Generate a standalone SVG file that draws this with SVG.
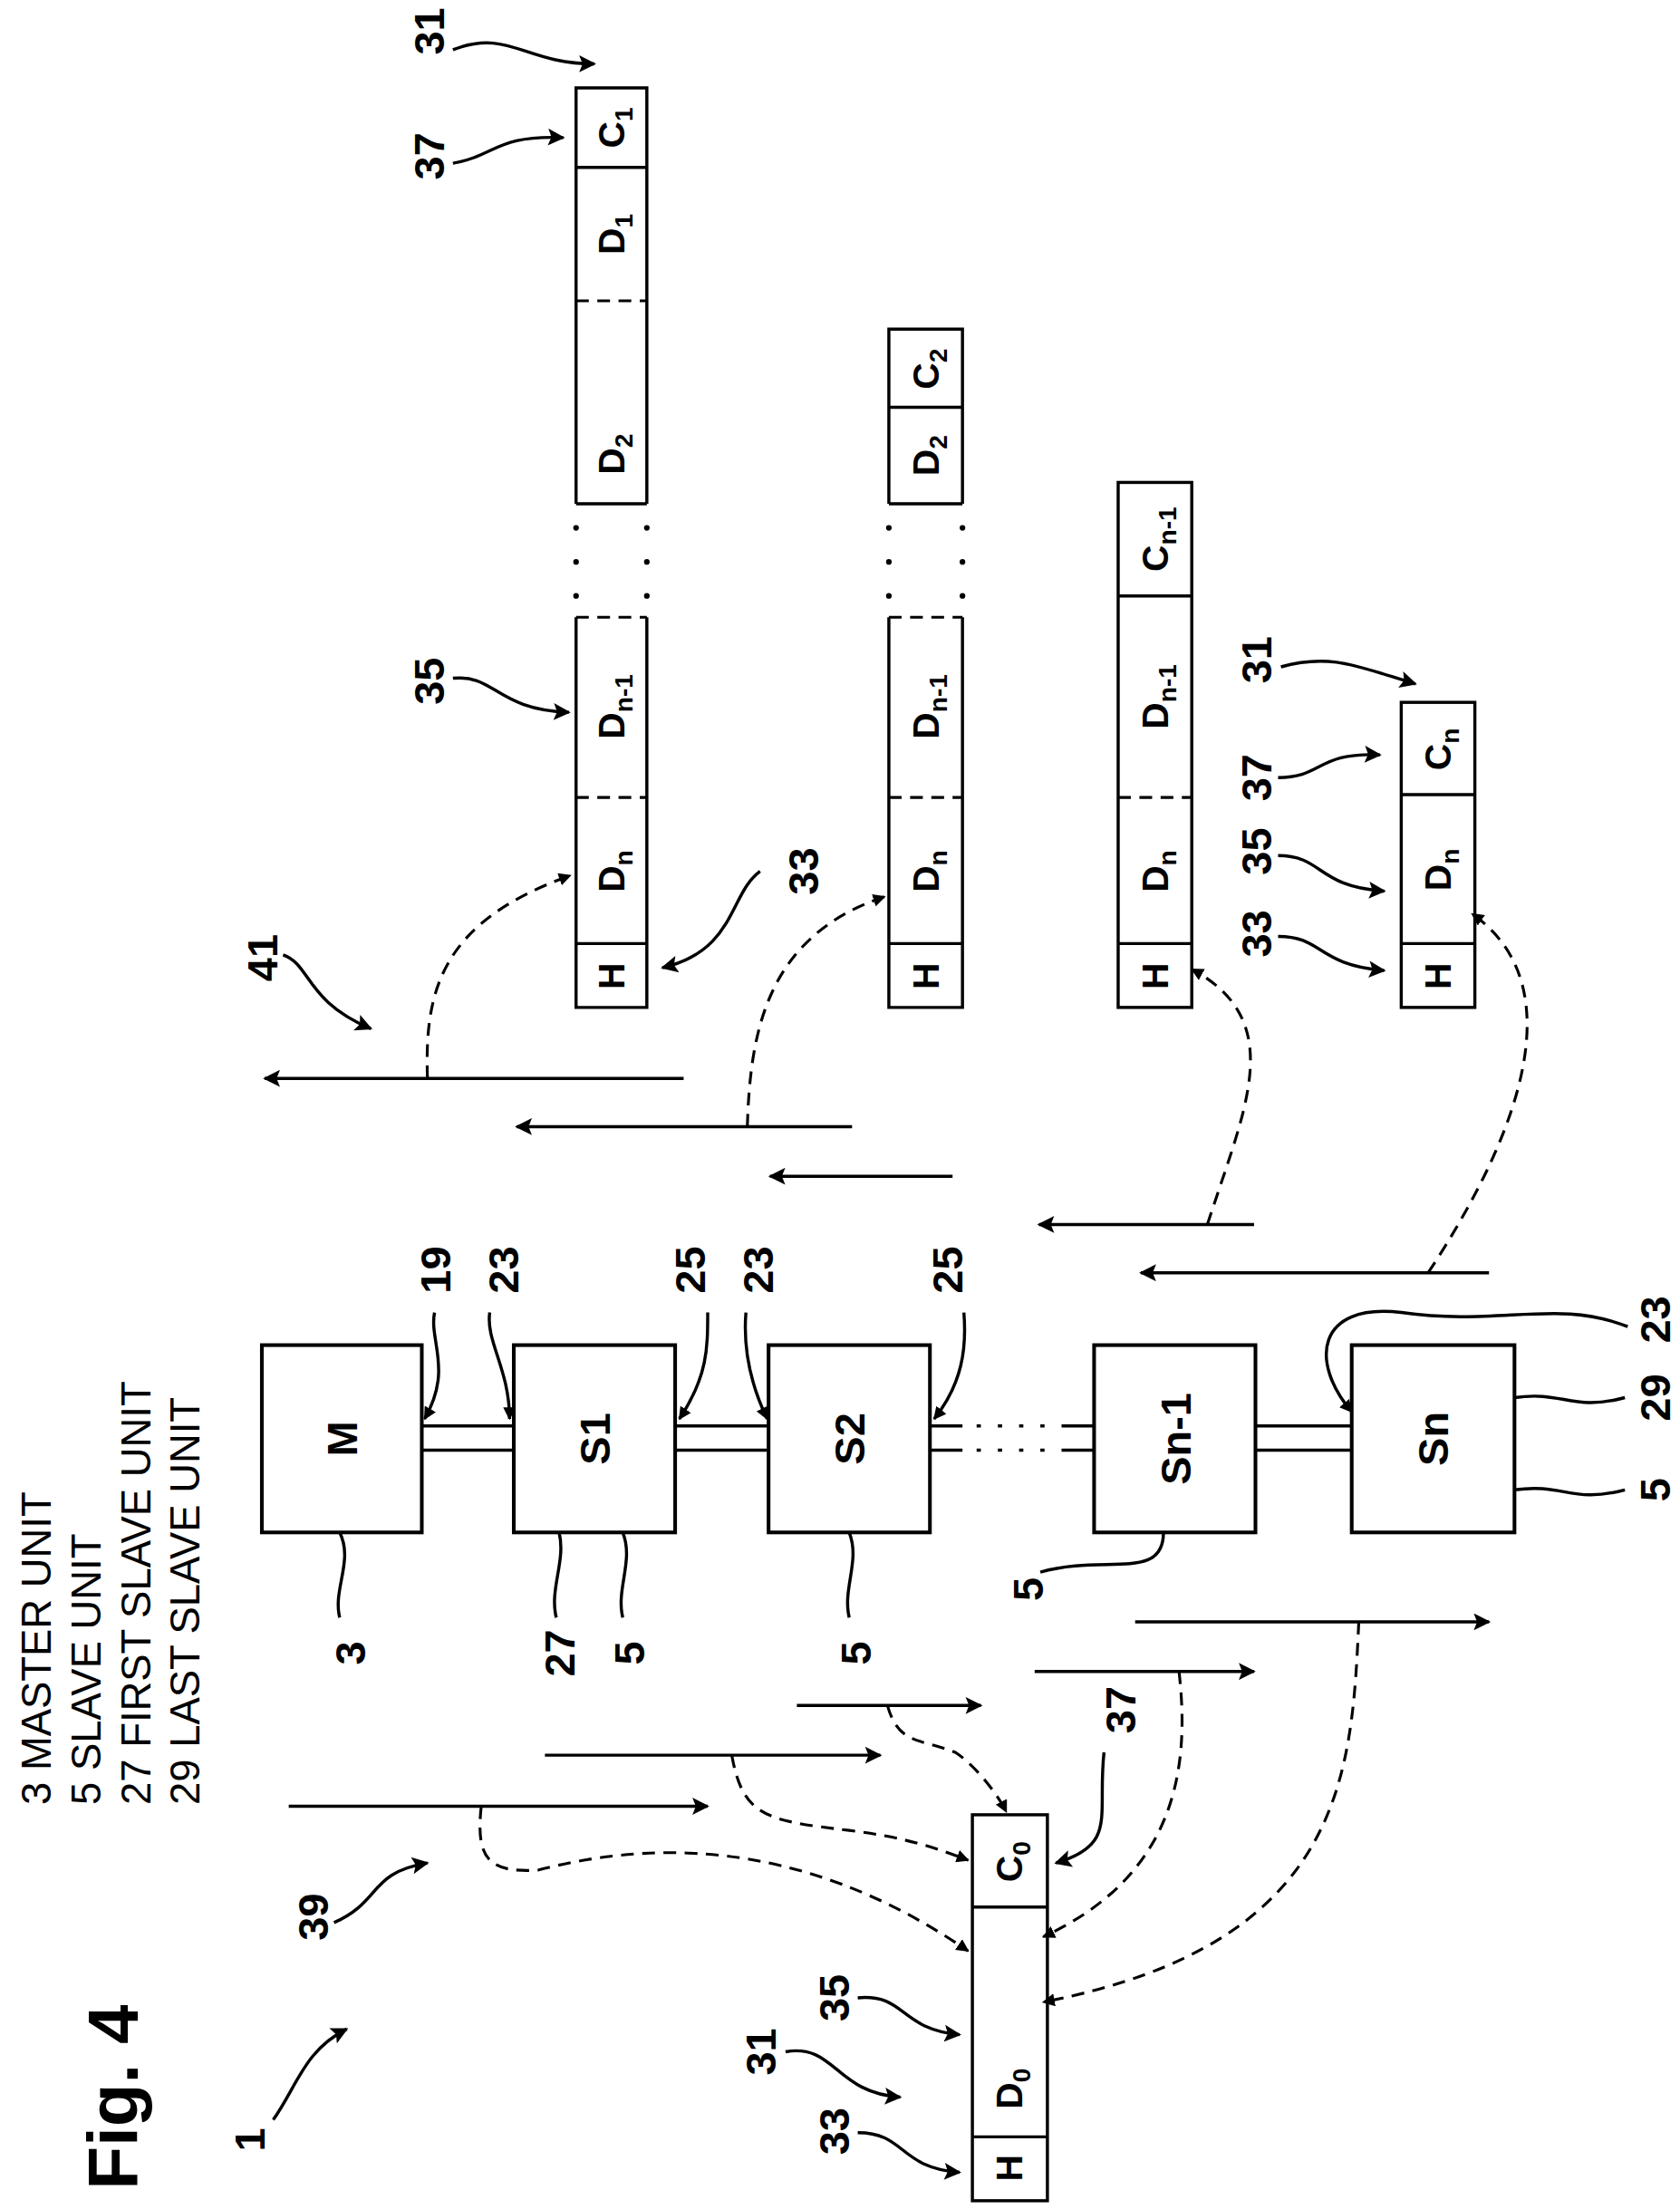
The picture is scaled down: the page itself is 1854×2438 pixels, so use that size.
<svg xmlns="http://www.w3.org/2000/svg" width="1854" height="2438" viewBox="0 0 1854 2438">
<defs>
<style>
.l{stroke:#000;stroke-width:2.2;fill:none}
.b{stroke:#000;stroke-width:2.6;fill:#fff}
.d{stroke:#000;stroke-width:2;fill:none;stroke-dasharray:9 6}
.p{stroke:#000;stroke-width:4;fill:none;stroke-dasharray:0 24;stroke-linecap:round}
.t{font-family:"Liberation Sans",Arial,sans-serif;font-weight:bold;font-size:30px;fill:#000}
.f{font-family:"Liberation Sans",Arial,sans-serif;font-weight:bold;font-size:26px;fill:#000}
.g{font-family:"Liberation Sans",Arial,sans-serif;font-size:29px;fill:#000}
</style>
<marker id="a" viewBox="0 0 10 10" refX="9" refY="5" markerWidth="9" markerHeight="9" markerUnits="userSpaceOnUse" orient="auto"><path d="M0,0 L10,5 L0,10 z" fill="#000"/></marker>
<marker id="A" viewBox="0 0 10 10" refX="9" refY="5" markerWidth="16" markerHeight="12" markerUnits="userSpaceOnUse" orient="auto"><path d="M0,0 L10,5 L0,10 L2,5 z" fill="#000"/></marker>
</defs>
<rect width="1854" height="2438" fill="#fff"/>
<g transform="scale(1.562,1.566)">
<g id="legend">
<text class="t" style="font-size:50px" transform="translate(97,1478) rotate(-90)" text-anchor="middle">Fig. 4</text>
<text class="g" transform="translate(36,1272) rotate(-90)">3 MASTER UNIT</text>
<text class="g" transform="translate(71,1272) rotate(-90)">5 SLAVE UNIT</text>
<text class="g" transform="translate(106,1272) rotate(-90)">27 FIRST SLAVE UNIT</text>
<text class="g" transform="translate(141,1272) rotate(-90)">29 LAST SLAVE UNIT</text>
</g>
<g id="nodes">
<g id="M"><rect class="b" x="185" y="948" width="113" height="132"/><text class="t" transform="translate(252,1014) rotate(-90)" text-anchor="middle">M</text></g>
<g id="S1"><rect class="b" x="363" y="948" width="114" height="132"/><text class="t" transform="translate(431,1014) rotate(-90)" text-anchor="middle">S1</text></g>
<g id="S2"><rect class="b" x="543" y="948" width="114" height="132"/><text class="t" transform="translate(611,1014) rotate(-90)" text-anchor="middle">S2</text></g>
<g id="Sn-1"><rect class="b" x="773" y="948" width="114" height="132"/><text class="t" transform="translate(841,1014) rotate(-90)" text-anchor="middle">Sn-1</text></g>
<g id="Sn"><rect class="b" x="955" y="948" width="115" height="132"/><text class="t" transform="translate(1023,1014) rotate(-90)" text-anchor="middle">Sn</text></g>
</g>
<g id="frames">
<g id="frame1">
<path class="l" d="M407,355 V62 H457 V355 M407,355 H457 M407,118 H457 M407,435 V710 H457 V435 M407,665 H457"/>
<path class="d" d="M407,212 H457 M407,562 H457 M407,435 H457"/>
<path class="p" d="M407,372 V432 M457,372 V432"/>
<text class="f" transform="translate(441,90) rotate(-90)" text-anchor="middle">C<tspan font-size="18" dy="6">1</tspan></text>
<text class="f" transform="translate(441,165) rotate(-90)" text-anchor="middle">D<tspan font-size="18" dy="6">1</tspan></text>
<text class="f" transform="translate(441,320) rotate(-90)" text-anchor="middle">D<tspan font-size="18" dy="6">2</tspan></text>
<text class="f" transform="translate(441,498) rotate(-90)" text-anchor="middle">D<tspan font-size="18" dy="6">n-1</tspan></text>
<text class="f" transform="translate(441,614) rotate(-90)" text-anchor="middle">D<tspan font-size="18" dy="6">n</tspan></text>
<text class="f" transform="translate(441,688) rotate(-90)" text-anchor="middle">H</text>
</g>
<g id="frame2">
<path class="l" d="M628,355 V232 H680 V355 M628,355 H680 M628,287 H680 M628,435 V710 H680 V435 M628,665 H680"/>
<path class="d" d="M628,562 H680 M628,435 H680"/>
<path class="p" d="M628,372 V432 M680,372 V432"/>
<text class="f" transform="translate(663,260) rotate(-90)" text-anchor="middle">C<tspan font-size="18" dy="6">2</tspan></text>
<text class="f" transform="translate(663,321) rotate(-90)" text-anchor="middle">D<tspan font-size="18" dy="6">2</tspan></text>
<text class="f" transform="translate(663,498) rotate(-90)" text-anchor="middle">D<tspan font-size="18" dy="6">n-1</tspan></text>
<text class="f" transform="translate(663,614) rotate(-90)" text-anchor="middle">D<tspan font-size="18" dy="6">n</tspan></text>
<text class="f" transform="translate(663,688) rotate(-90)" text-anchor="middle">H</text>
</g>
<g id="frame3">
<rect class="l" x="790" y="340" width="52" height="370"/>
<path class="l" d="M790,420 H842 M790,665 H842"/>
<path class="d" d="M790,562 H842"/>
<text class="f" transform="translate(825,380) rotate(-90)" text-anchor="middle">C<tspan font-size="18" dy="6">n-1</tspan></text>
<text class="f" transform="translate(825,491) rotate(-90)" text-anchor="middle">D<tspan font-size="18" dy="6">n-1</tspan></text>
<text class="f" transform="translate(825,614) rotate(-90)" text-anchor="middle">D<tspan font-size="18" dy="6">n</tspan></text>
<text class="f" transform="translate(825,688) rotate(-90)" text-anchor="middle">H</text>
</g>
<g id="frame4">
<rect class="l" x="990" y="495" width="52" height="215"/>
<path class="l" d="M990,560 H1042 M990,665 H1042"/>
<text class="f" transform="translate(1025,528) rotate(-90)" text-anchor="middle">C<tspan font-size="18" dy="6">n</tspan></text>
<text class="f" transform="translate(1025,613) rotate(-90)" text-anchor="middle">D<tspan font-size="18" dy="6">n</tspan></text>
<text class="f" transform="translate(1025,688) rotate(-90)" text-anchor="middle">H</text>
</g>
<g id="frame0">
<rect class="l" x="687" y="1279" width="53" height="272"/>
<path class="l" d="M687,1344 H740 M687,1506 H740"/>
<text class="f" transform="translate(722,1312) rotate(-90)" text-anchor="middle">C<tspan font-size="18" dy="6">0</tspan></text>
<text class="f" transform="translate(722,1472) rotate(-90)" text-anchor="middle">D<tspan font-size="18" dy="6">0</tspan></text>
<text class="f" transform="translate(722,1528) rotate(-90)" text-anchor="middle">H</text>
</g>
</g>
<g id="connectors">
<path class="l" d="M298,1005 H363 M298,1022 H363 M477,1005 H543 M477,1022 H543 M887,1005 H955 M887,1022 H955 M657,1005 H680 M657,1022 H680 M750,1005 H773 M750,1022 H773"/>
<path class="l" stroke-dasharray="3 12" d="M690,1005 H745 M690,1022 H745"/>
<path class="l" marker-end="url(#A)" d="M483,760 H187"/>
<path class="l" marker-end="url(#A)" d="M602,794 H365"/>
<path class="l" marker-end="url(#A)" d="M673,829 H544"/>
<path class="l" marker-end="url(#A)" d="M886,863 H734"/>
<path class="l" marker-end="url(#A)" d="M1052,897 H806"/>
<path class="l" marker-end="url(#A)" d="M204,1273 H500"/>
<path class="l" marker-end="url(#A)" d="M385,1237 H622"/>
<path class="l" marker-end="url(#A)" d="M563,1202 H693"/>
<path class="l" marker-end="url(#A)" d="M731,1178 H886"/>
<path class="l" marker-end="url(#A)" d="M802,1143 H1052"/>
<path class="d" marker-end="url(#a)" d="M302,760 C300,700 310,650 403,617"/>
<path class="d" marker-end="url(#a)" d="M528,794 C530,730 540,660 625,632"/>
<path class="d" marker-end="url(#a)" d="M853,863 C880,780 910,720 842,683"/>
<path class="d" marker-end="url(#a)" d="M1009,897 C1060,820 1120,700 1040,644"/>
<path class="d" marker-end="url(#a)" d="M340,1273 C336,1310 345,1320 380,1318 C450,1300 560,1290 684,1375"/>
<path class="d" marker-end="url(#a)" d="M517,1237 C525,1280 540,1283 600,1290 C640,1295 660,1302 684,1311"/>
<path class="d" marker-end="url(#a)" d="M627,1202 C635,1230 650,1225 675,1235 C690,1245 705,1265 711,1277"/>
<path class="d" marker-end="url(#a)" d="M833,1178 C840,1240 835,1320 737,1365"/>
<path class="d" marker-end="url(#a)" d="M960,1143 C955,1250 950,1370 737,1411"/>
</g>
<g id="labels">
<text class="t" transform="translate(258,1165) rotate(-90)" text-anchor="middle">3</text>
<path class="l" d="M240,1140 C235,1120 250,1100 240,1080"/>
<text class="t" transform="translate(406,1165) rotate(-90)" text-anchor="middle">27</text>
<path class="l" d="M393,1140 C388,1120 400,1100 395,1080"/>
<text class="t" transform="translate(455,1165) rotate(-90)" text-anchor="middle">5</text>
<path class="l" d="M440,1140 C435,1120 448,1100 440,1080"/>
<text class="t" transform="translate(615,1165) rotate(-90)" text-anchor="middle">5</text>
<path class="l" d="M600,1140 C595,1120 608,1100 600,1080"/>
<text class="t" transform="translate(737,1120) rotate(-90)" text-anchor="middle">5</text>
<path class="l" d="M735,1108 C780,1095 822,1115 822,1080"/>
<text class="t" transform="translate(1180,1050) rotate(-90)" text-anchor="middle">5</text>
<path class="l" d="M1148,1050 C1110,1060 1105,1045 1070,1050"/>
<text class="t" transform="translate(1180,985) rotate(-90)" text-anchor="middle">29</text>
<path class="l" d="M1148,985 C1110,995 1105,980 1070,985"/>
<text class="t" transform="translate(1180,930) rotate(-90)" text-anchor="middle">23</text>
<path class="l" marker-end="url(#a)" d="M1150,935 C1100,915 1060,935 990,925 C930,918 925,960 955,995"/>
<text class="t" transform="translate(318,895) rotate(-90)" text-anchor="middle">19</text>
<path class="l" marker-end="url(#a)" d="M307,925 C303,945 320,965 300,1000"/>
<text class="t" transform="translate(366,895) rotate(-90)" text-anchor="middle">23</text>
<path class="l" marker-end="url(#a)" d="M346,925 C343,945 360,965 360,1000"/>
<text class="t" transform="translate(498,895) rotate(-90)" text-anchor="middle">25</text>
<path class="l" marker-end="url(#a)" d="M500,925 C500,950 500,970 480,1000"/>
<text class="t" transform="translate(546,895) rotate(-90)" text-anchor="middle">23</text>
<path class="l" marker-end="url(#a)" d="M527,925 C525,950 530,975 542,1000"/>
<text class="t" transform="translate(680,895) rotate(-90)" text-anchor="middle">25</text>
<path class="l" marker-end="url(#a)" d="M681,925 C683,950 680,975 660,1000"/>
<text class="t" transform="translate(196,675) rotate(-90)" text-anchor="middle">41</text>
<path class="l" marker-end="url(#A)" d="M200,673 C220,680 215,705 262,725"/>
<text class="t" transform="translate(578,614) rotate(-90)" text-anchor="middle">33</text>
<path class="l" marker-end="url(#A)" d="M537,614 C515,630 520,670 468,682"/>
<text class="t" transform="translate(314,480) rotate(-90)" text-anchor="middle">35</text>
<path class="l" marker-end="url(#A)" d="M320,478 C350,475 350,500 402,502"/>
<text class="t" transform="translate(314,110) rotate(-90)" text-anchor="middle">37</text>
<path class="l" marker-end="url(#A)" d="M320,115 C350,110 350,95 398,97"/>
<text class="t" transform="translate(314,22) rotate(-90)" text-anchor="middle">31</text>
<path class="l" marker-end="url(#A)" d="M320,35 C360,20 370,45 420,45"/>
<text class="t" transform="translate(898,658) rotate(-90)" text-anchor="middle">33</text>
<path class="l" marker-end="url(#A)" d="M903,660 C935,660 930,680 978,684"/>
<text class="t" transform="translate(898,600) rotate(-90)" text-anchor="middle">35</text>
<path class="l" marker-end="url(#A)" d="M903,603 C935,603 930,625 978,628"/>
<text class="t" transform="translate(898,548) rotate(-90)" text-anchor="middle">37</text>
<path class="l" marker-end="url(#A)" d="M903,548 C935,548 930,530 975,532"/>
<text class="t" transform="translate(898,465) rotate(-90)" text-anchor="middle">31</text>
<path class="l" marker-end="url(#A)" d="M905,470 C940,460 960,470 1000,482"/>
<text class="t" transform="translate(802,1205) rotate(-90)" text-anchor="middle">37</text>
<path class="l" marker-end="url(#A)" d="M780,1235 C775,1280 790,1300 746,1313"/>
<text class="t" transform="translate(232,1351) rotate(-90)" text-anchor="middle">39</text>
<path class="l" marker-end="url(#A)" d="M236,1355 C270,1340 260,1320 302,1313"/>
<text class="t" transform="translate(600,1408) rotate(-90)" text-anchor="middle">35</text>
<path class="l" marker-end="url(#A)" d="M606,1408 C640,1405 635,1430 678,1434"/>
<text class="t" transform="translate(548,1446) rotate(-90)" text-anchor="middle">31</text>
<path class="l" marker-end="url(#A)" d="M555,1446 C590,1440 590,1475 636,1478"/>
<text class="t" transform="translate(600,1502) rotate(-90)" text-anchor="middle">33</text>
<path class="l" marker-end="url(#A)" d="M606,1503 C640,1503 635,1528 678,1531"/>
<text class="t" transform="translate(187,1508) rotate(-90)" text-anchor="middle">1</text>
<path class="l" marker-end="url(#A)" d="M193,1494 C210,1470 215,1445 245,1430"/>
</g>
</g>
</svg>
